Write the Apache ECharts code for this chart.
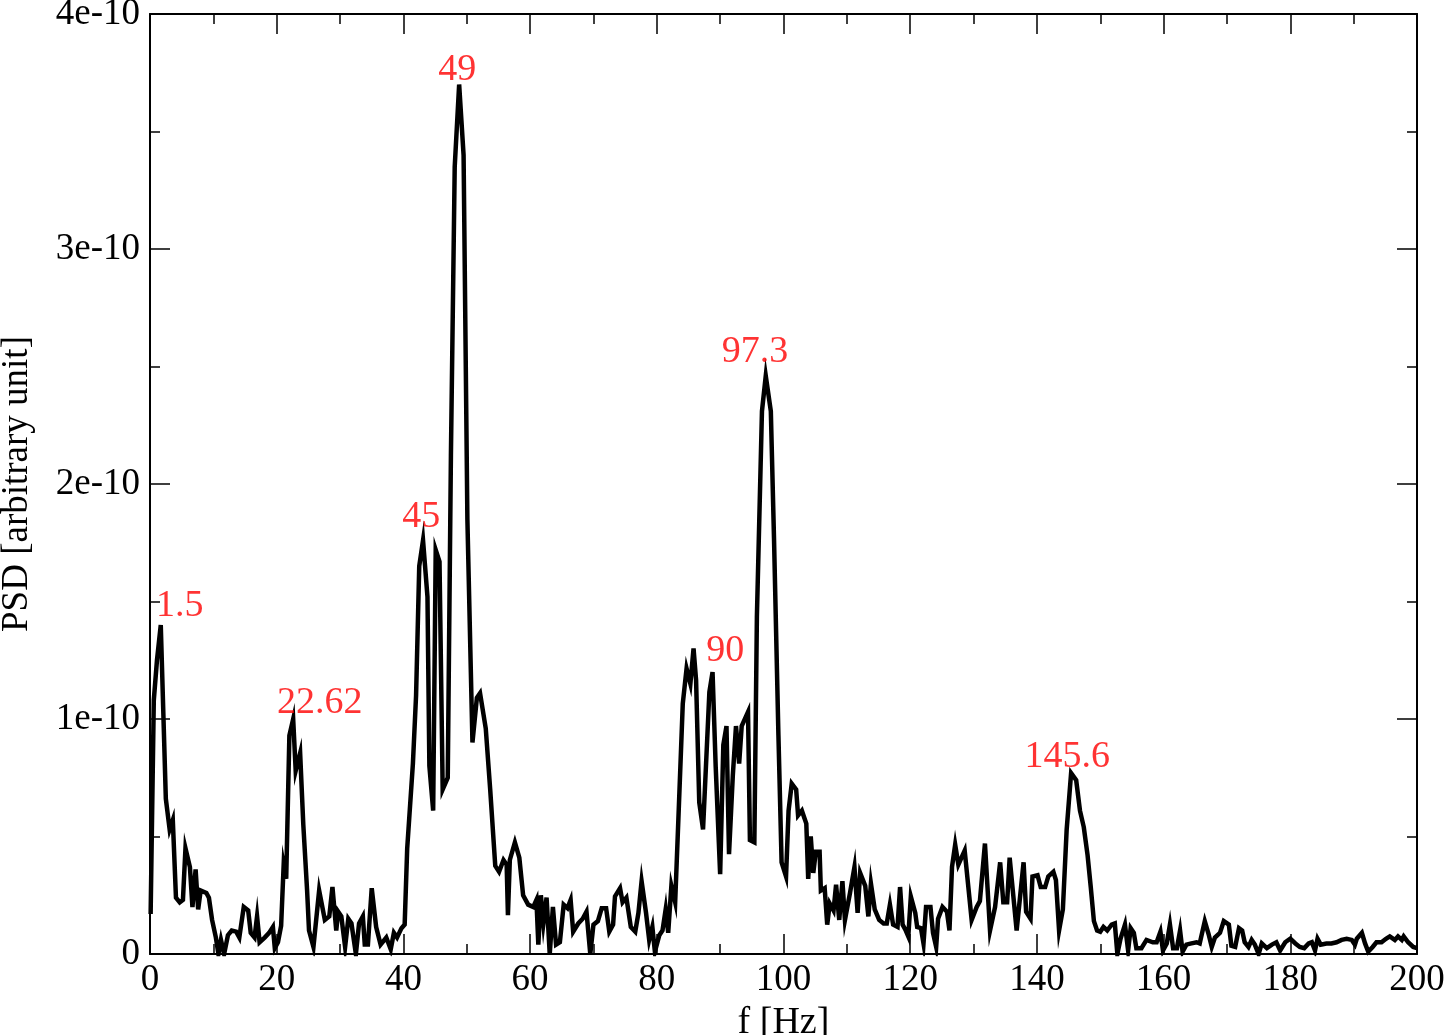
<!DOCTYPE html>
<html>
<head>
<meta charset="utf-8">
<script src="https://cdn.jsdelivr.net/npm/echarts@6/dist/echarts.min.js"></script>
<style>
html,body{margin:0;padding:0;background:#fff;}
#chart{width:1449px;height:1035px;}
</style>
</head>
<body>
<div id="chart"></div>
<script>
// Spectrum: [frequency in Hz, PSD in units of 1e-10]
const spectrum = [
[0.1,0.17],[0.6,1.08],[1.1,1.25],[1.7,1.40],[2.5,0.66],[3.1,0.53],[3.6,0.57],[4.1,0.24],[4.7,0.22],[5.2,0.23],
[5.6,0.45],[6.3,0.37],[6.7,0.20],[7.2,0.36],[7.6,0.19],[8.0,0.27],[8.9,0.26],[9.3,0.24],[9.8,0.145],[10.4,0.07],
[10.8,0.0],[11.2,0.06],[11.7,0.0],[12.3,0.08],[12.9,0.10],[13.6,0.095],[14.1,0.07],[14.8,0.20],[15.5,0.185],[15.9,0.09],
[16.5,0.07],[16.9,0.16],[17.3,0.05],[18.1,0.07],[18.8,0.09],[19.4,0.115],[19.7,0.025],[20.2,0.05],[20.7,0.12],[21.1,0.38],
[21.5,0.32],[22.0,0.93],[22.6,1.00],[23.0,0.78],[23.7,0.855],[24.2,0.55],[24.8,0.27],[25.1,0.10],[25.8,0.03],[26.7,0.27],
[27.6,0.145],[28.3,0.16],[28.8,0.285],[29.4,0.10],[29.7,0.18],[30.2,0.16],[30.8,0.03],[31.3,0.15],[31.8,0.13],[32.5,0.0],
[33.0,0.13],[33.6,0.16],[33.9,0.04],[34.4,0.04],[35.0,0.28],[35.7,0.115],[36.4,0.04],[37.3,0.07],[38.0,0.02],[38.5,0.09],
[39.0,0.07],[39.7,0.11],[40.2,0.125],[40.6,0.45],[41.5,0.81],[42.0,1.10],[42.5,1.65],[43.1,1.76],[43.8,1.52],[44.1,0.80],
[44.7,0.61],[45.1,1.72],[45.7,1.67],[46.2,0.70],[47.0,0.75],[47.5,2.12],[48.1,3.35],[48.8,3.70],[49.5,3.40],[50.1,1.85],
[50.9,0.90],[51.6,1.09],[52.1,1.11],[53.0,0.96],[53.7,0.70],[54.5,0.375],[55.1,0.35],[55.8,0.40],[56.3,0.38],[56.5,0.165],
[56.8,0.40],[57.6,0.475],[58.3,0.41],[58.9,0.25],[59.7,0.21],[60.5,0.20],[61.0,0.23],[61.3,0.04],[61.7,0.25],[62.1,0.13],
[62.6,0.24],[63.1,0.0],[63.6,0.20],[64.1,0.04],[64.7,0.05],[65.3,0.21],[65.9,0.195],[66.4,0.23],[66.8,0.095],[67.6,0.13],
[68.3,0.15],[68.9,0.18],[69.5,0.0],[70.0,0.125],[70.7,0.14],[71.3,0.195],[72.0,0.195],[72.5,0.095],[73.1,0.125],[73.4,0.245],
[74.2,0.28],[74.6,0.22],[75.2,0.24],[75.9,0.115],[76.6,0.095],[77.1,0.175],[77.6,0.31],[78.3,0.175],[78.8,0.06],[79.3,0.115],
[79.7,0.01],[80.4,0.08],[80.9,0.10],[81.4,0.19],[81.8,0.09],[82.3,0.29],[82.9,0.22],[83.4,0.57],[84.1,1.065],[84.7,1.215],
[85.3,1.15],[85.8,1.30],[86.2,1.165],[86.7,0.645],[87.3,0.53],[88.3,1.115],[88.8,1.20],[89.3,0.795],[90.0,0.34],[90.5,0.89],
[91.0,0.97],[91.4,0.425],[92.0,0.76],[92.5,0.97],[93.0,0.81],[93.4,0.97],[94.4,1.03],[94.7,0.485],[95.4,0.475],[95.8,1.435],
[96.6,2.31],[97.2,2.46],[98.0,2.31],[98.5,1.77],[99.2,0.93],[99.7,0.39],[100.4,0.33],[100.8,0.61],[101.3,0.725],[102.0,0.70],
[102.3,0.59],[102.9,0.61],[103.6,0.555],[103.9,0.32],[104.3,0.50],[104.7,0.345],[105.1,0.435],[105.7,0.435],[105.9,0.27],[106.5,0.28],
[106.9,0.125],[107.3,0.215],[107.9,0.185],[108.3,0.295],[108.8,0.145],[109.3,0.31],[109.7,0.145],[110.5,0.26],[111.2,0.37],[111.7,0.175],
[112.1,0.345],[112.9,0.29],[113.4,0.16],[113.8,0.30],[114.4,0.19],[115.1,0.145],[115.8,0.13],[116.3,0.13],[116.8,0.21],[117.3,0.125],
[118.0,0.115],[118.4,0.285],[118.8,0.125],[119.3,0.10],[119.7,0.075],[120.1,0.245],[120.8,0.175],[121.1,0.115],[121.7,0.11],[122.1,0.045],
[122.5,0.20],[123.2,0.20],[123.6,0.09],[124.1,0.03],[124.4,0.15],[125.1,0.20],[125.8,0.18],[126.2,0.10],[126.6,0.37],[127.1,0.465],
[127.6,0.38],[128.6,0.44],[129.7,0.145],[130.5,0.20],[131.0,0.225],[131.8,0.47],[132.6,0.10],[133.4,0.20],[134.2,0.39],[134.7,0.22],
[135.3,0.22],[135.7,0.41],[136.8,0.10],[137.9,0.39],[138.3,0.18],[139.0,0.15],[139.3,0.33],[140.1,0.335],[140.6,0.285],[141.3,0.285],
[141.8,0.33],[142.6,0.35],[143.0,0.315],[143.5,0.10],[144.1,0.19],[144.7,0.53],[145.4,0.77],[146.2,0.74],[146.8,0.61],[147.4,0.54],
[148.0,0.42],[148.5,0.285],[149.0,0.14],[149.5,0.10],[150.0,0.095],[150.5,0.115],[151.1,0.10],[151.8,0.125],[152.3,0.13],[152.7,0.0],
[153.2,0.065],[153.9,0.125],[154.4,0.015],[154.8,0.11],[155.3,0.09],[155.7,0.025],[156.5,0.025],[157.3,0.06],[158.3,0.05],[158.9,0.05],
[159.5,0.095],[159.9,0.015],[160.5,0.045],[161.0,0.125],[161.5,0.025],[162.1,0.025],[162.6,0.10],[163.0,0.01],[163.6,0.04],[164.4,0.045],
[165.2,0.05],[165.7,0.045],[166.5,0.14],[167.1,0.085],[167.6,0.03],[168.1,0.07],[168.9,0.09],[169.5,0.14],[170.3,0.125],[170.7,0.035],
[171.3,0.03],[171.9,0.11],[172.4,0.10],[172.8,0.05],[173.4,0.03],[173.9,0.06],[174.4,0.04],[175.0,0.0],[175.5,0.045],[176.3,0.025],
[177.1,0.04],[177.8,0.05],[178.4,0.015],[179.2,0.05],[180.0,0.065],[180.8,0.045],[181.5,0.03],[182.2,0.025],[182.9,0.045],[183.4,0.05],
[183.9,0.015],[184.3,0.065],[184.8,0.04],[185.7,0.045],[186.5,0.045],[187.3,0.05],[188.1,0.06],[188.9,0.065],[189.7,0.06],[190.2,0.04],
[190.5,0.065],[191.3,0.09],[191.8,0.045],[192.3,0.01],[193.0,0.03],[193.6,0.05],[194.4,0.05],[195.1,0.065],[195.7,0.075],[196.5,0.06],
[197.0,0.075],[197.6,0.06],[197.9,0.075],[198.6,0.05],[199.4,0.03],[200.0,0.025]
];
const PSD_UNIT = 1e-10;

// Peak annotations: [frequency, PSD (units of 1e-10), text]
const peakLabels = [
  [4.7, 1.48, '1.5'],
  [26.8, 1.07, '22.62'],
  [42.8, 1.86, '45'],
  [48.5, 3.76, '49'],
  [90.8, 1.29, '90'],
  [95.5, 2.56, '97.3'],
  [144.8, 0.84, '145.6']
];

const xTicks = { min: 0, max: 200, step: 20 };
const yTickLabels = ['0', '1e-10', '2e-10', '3e-10', '4e-10'];

const FONT = 'Liberation Serif';

function axisCommon(showLabel, isX) {
  return {
    type: 'value',
    axisLine: { show: true, onZero: false, lineStyle: { color: '#000', width: 2 } },
    axisTick: { show: true, inside: true, length: 20, lineStyle: { color: '#000', width: 1.5 } },
    minorTick: { show: true, splitNumber: 2, length: 10, lineStyle: { color: '#000', width: 1.5 } },
    splitLine: { show: false },
    minorSplitLine: { show: false },
    axisLabel: {
      show: showLabel,
      color: '#000',
      fontFamily: FONT,
      fontSize: 37,
      margin: isX ? 8 : 10,
      formatter: isX ? (v => String(v)) : (v => yTickLabels[Math.round(v / PSD_UNIT)])
    }
  };
}

const chart = echarts.init(document.getElementById('chart'), null, { renderer: 'canvas' });

const xBottom = Object.assign(axisCommon(true, true), {
  position: 'bottom', min: xTicks.min, max: xTicks.max, interval: xTicks.step,
  name: 'f [Hz]', nameLocation: 'middle', nameGap: 42,
  nameTextStyle: { color: '#000', fontFamily: FONT, fontSize: 38 }
});
const xTop = Object.assign(axisCommon(false, true), {
  position: 'top', min: xTicks.min, max: xTicks.max, interval: xTicks.step
});
const yLeft = Object.assign(axisCommon(true, false), {
  position: 'left', min: 0, max: 4 * PSD_UNIT, interval: PSD_UNIT,
  name: 'PSD [arbitrary unit]', nameLocation: 'middle', nameGap: 114,
  nameTextStyle: { color: '#000', fontFamily: FONT, fontSize: 37 }
});
const yRight = Object.assign(axisCommon(false, false), {
  position: 'right', min: 0, max: 4 * PSD_UNIT, interval: PSD_UNIT
});

chart.setOption({
  backgroundColor: '#fff',
  animation: false,
  grid: { left: 150, right: 32, top: 14, bottom: 81, containLabel: false, outerBoundsMode: 'none' },
  xAxis: [xBottom, xTop],
  yAxis: [yLeft, yRight],
  series: [
    {
      type: 'line',
      xAxisIndex: 0, yAxisIndex: 0,
      data: spectrum.map(p => [p[0], p[1] * PSD_UNIT]),
      showSymbol: false,
      symbol: 'none',
      lineStyle: { color: '#000', width: 4.5, join: 'miter' },
      clip: true,
      z: 3
    },
    {
      type: 'scatter',
      xAxisIndex: 0, yAxisIndex: 0,
      data: peakLabels.map(p => ({ value: [p[0], p[1] * PSD_UNIT], name: p[2] })),
      symbolSize: 0,
      silent: true,
      label: {
        show: true,
        position: 'inside',
        formatter: params => params.name,
        color: '#ff0000',
        fontFamily: FONT,
        fontSize: 38
      },
      z: 4
    }
  ]
});
</script>
</body>
</html>
